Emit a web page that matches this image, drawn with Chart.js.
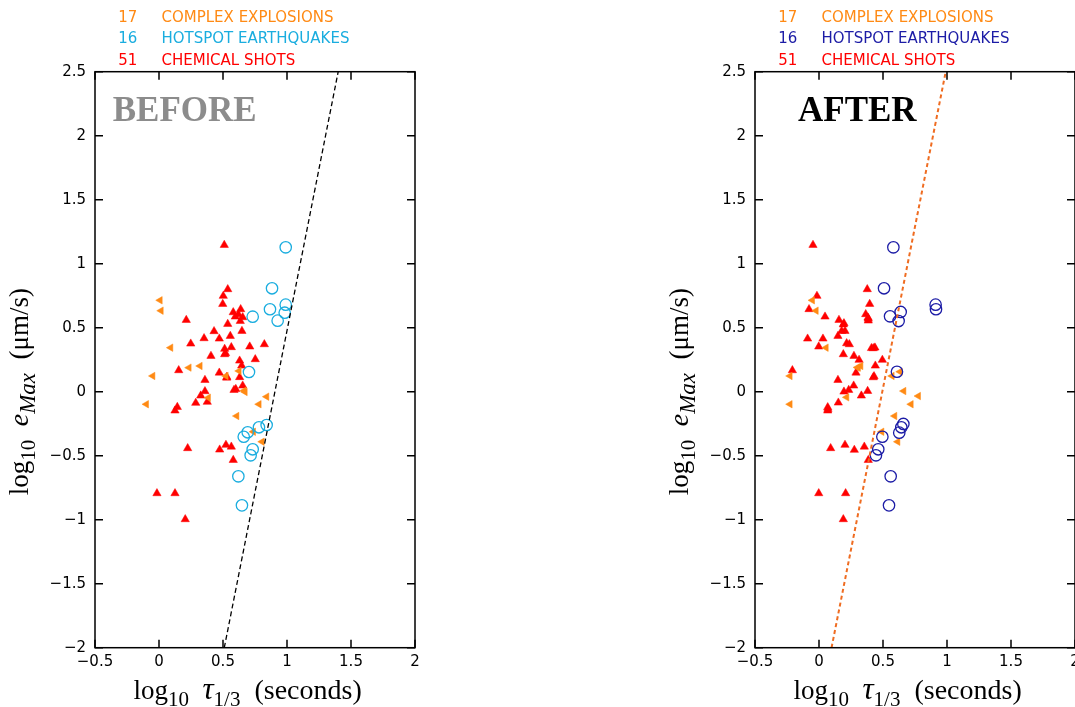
<!DOCTYPE html>
<html>
<head>
<meta charset="utf-8">
<script src="https://cdn.jsdelivr.net/npm/chart.js@4.4.1/dist/chart.umd.min.js"></script>
<style>
  html, body { margin:0; padding:0; background:#fff; overflow:hidden; width:1075px; height:707px; }
  canvas { position:absolute; top:0; }
  #c1 { left:0; }
  #c2 { left:540px; }
</style>
</head>
<body>
<canvas id="c1" width="540" height="707"></canvas>
<canvas id="c2" width="600" height="707"></canvas>
<script>
// ---------- DATA ----------
const xTicks = [-0.5, 0, 0.5, 1, 1.5, 2];
const yTicks = [-2, -1.5, -1, -0.5, 0, 0.5, 1, 1.5, 2, 2.5];

const legendCounts = ['17', '16', '51'];
const legendNames = ['COMPLEX EXPLOSIONS', 'HOTSPOT EARTHQUAKES', 'CHEMICAL SHOTS'];

// BEFORE panel
const beforeChemX = [0.51,0.537,0.502,0.498,0.638,0.596,0.654,0.62,0.213,0.537,0.635,0.43,0.648,0.352,0.471,0.557,0.248,0.513,0.565,0.709,0.823,0.406,0.513,0.63,0.752,0.646,0.154,0.471,0.529,0.63,0.359,0.654,0.586,0.359,0.326,0.377,0.287,0.143,0.125,0.224,0.474,0.523,0.565,0.58,-0.016,0.125,0.205,0.58,0.52,0.60,0.53];
const beforeChemY = [1.146,0.80,0.748,0.685,0.644,0.586,0.581,0.605,0.56,0.529,0.552,0.472,0.474,0.417,0.414,0.435,0.375,0.334,0.347,0.352,0.37,0.279,0.292,0.242,0.253,0.203,0.167,0.148,0.109,0.113,0.091,0.047,0.013,0.003,-0.031,-0.08,-0.088,-0.12,-0.148,-0.442,-0.453,-0.416,-0.43,-0.534,-0.794,-0.794,-0.997,0.62,0.30,0.02,0.115];
const beforeCplxX = [0.008,0.016,0.091,0.234,0.32,-0.049,0.625,0.523,0.664,0.385,0.841,-0.099,0.781,0.607,0.737,0.805,0.672];
const beforeCplxY = [0.714,0.633,0.344,0.188,0.201,0.123,0.162,0.123,0.008,-0.047,-0.039,-0.098,-0.098,-0.19,-0.313,-0.391,-0.002];
const beforeQuakeX = [0.99,0.883,0.99,0.867,0.982,0.927,0.732,0.703,0.841,0.781,0.693,0.662,0.732,0.716,0.62,0.648];
const beforeQuakeY = [1.128,0.808,0.68,0.644,0.617,0.555,0.586,0.154,-0.26,-0.278,-0.317,-0.352,-0.45,-0.497,-0.661,-0.888];
const beforeLineX = [0.51, 1.40];
const beforeLineY = [-2, 2.5];

// AFTER panel
const afterChemX = [-0.047,-0.016,-0.078,0.047,0.377,0.396,0.365,0.383,0.385,0.156,0.195,0.177,0.203,0.148,-0.089,0.031,-0.002,0.216,0.237,0.424,0.437,0.19,0.273,0.313,0.495,0.44,0.289,-0.208,0.424,0.148,0.271,0.195,0.232,0.38,0.331,0.151,0.068,0.068,0.091,0.203,0.276,0.354,0.385,-0.002,0.208,0.19,0.43,0.385,0.41,0.19,0.07];
const afterChemY = [1.146,0.748,0.644,0.586,0.80,0.685,0.605,0.578,0.555,0.56,0.534,0.474,0.474,0.435,0.414,0.414,0.352,0.378,0.37,0.339,0.344,0.292,0.279,0.248,0.248,0.203,0.148,0.167,0.112,0.091,0.047,0.0,0.013,0.005,-0.031,-0.086,-0.122,-0.148,-0.442,-0.416,-0.455,-0.43,-0.534,-0.794,-0.794,-0.997,0.12,0.57,0.34,0.525,-0.135];
const afterCplxX = [-0.052,-0.023,0.055,-0.227,0.307,0.326,0.633,0.57,0.662,0.216,0.776,-0.227,0.719,0.591,0.49,0.615,0.30];
const afterCplxY = [0.714,0.633,0.344,0.123,0.188,0.201,0.156,0.123,0.005,-0.044,-0.034,-0.098,-0.098,-0.19,-0.313,-0.391,0.19];
const afterQuakeX = [0.581,0.508,0.911,0.914,0.638,0.555,0.622,0.609,0.659,0.643,0.627,0.495,0.463,0.445,0.56,0.547];
const afterQuakeY = [1.128,0.808,0.68,0.644,0.623,0.589,0.552,0.156,-0.252,-0.278,-0.32,-0.352,-0.45,-0.497,-0.661,-0.888];
const afterLineX = [0.098, 0.99];
const afterLineY = [-2, 2.5];

// ---------- HELPERS ----------
const pts = (xs, ys) => xs.map((x, i) => ({x, y: ys[i]}));
const fmt = v => (v < 0 ? '\u2212' : '') + String(Math.abs(Math.round(v * 100) / 100));
const SERIF = '"Liberation Serif", "Times New Roman", serif';

function drawRich(ctx, pieces) {
  let x = 0;
  pieces.forEach(p => {
    ctx.font = p.f;
    ctx.fillText(p.t, x, p.dy || 0);
    x += ctx.measureText(p.t).width;
  });
  return x;
}
function richWidth(ctx, pieces) {
  let w = 0;
  pieces.forEach(p => { ctx.font = p.f; w += ctx.measureText(p.t).width; });
  return w;
}

const mainF = '27px ' + SERIF;
const subF = '21px ' + SERIF;
const yTitle = [
  {t:'log', f:mainF}, {t:'10', f:subF, dy:7}, {t:'  ', f:mainF},
  {t:'e', f:'italic 28px ' + SERIF}, {t:'Max', f:'italic 23px ' + SERIF, dy:7},
  {t:'  (\u03bcm/s)', f:mainF}
];
const xTitle = [
  {t:'log', f:mainF}, {t:'10', f:subF, dy:7}, {t:'  ', f:mainF},
  {t:'\u03c4', f:'italic 31px ' + SERIF}, {t:'1/3', f:subF, dy:7},
  {t:'  (seconds)', f:'28px ' + SERIF}
];

const framePlugin = {
  id: 'frame',
  afterDraw(chart, args, o) {
    const {ctx, chartArea: a, scales: {x, y}} = chart;
    ctx.save();
    // box and inward ticks
    ctx.strokeStyle = '#000';
    ctx.lineWidth = 1.5;
    ctx.strokeRect(a.left, a.top, a.right - a.left, a.bottom - a.top);
    ctx.beginPath();
    x.ticks.forEach(t => {
      const p = x.getPixelForValue(t.value);
      ctx.moveTo(p, a.bottom); ctx.lineTo(p, a.bottom - 8);
      ctx.moveTo(p, a.top); ctx.lineTo(p, a.top + 8);
    });
    y.ticks.forEach(t => {
      const p = y.getPixelForValue(t.value);
      ctx.moveTo(a.left, p); ctx.lineTo(a.left + 8, p);
      ctx.moveTo(a.right, p); ctx.lineTo(a.right - 8, p);
    });
    ctx.stroke();

    // legend
    ctx.textBaseline = 'alphabetic';
    ctx.textAlign = 'left';
    ctx.font = '15px "DejaVu Sans", sans-serif';
    o.legendColors.forEach((c, i) => {
      ctx.fillStyle = c;
      const by = 21.7 + i * 21.6;
      ctx.fillText(legendCounts[i], a.left + 23.3, by);
      ctx.fillText(legendNames[i], a.left + 66.5, by);
    });

    // panel title
    ctx.font = 'bold 35px ' + SERIF;
    ctx.fillStyle = o.titleColor;
    ctx.fillText(o.title, a.left + o.titleDx, 121);

    // axis titles
    ctx.fillStyle = '#000';
    ctx.save();
    ctx.translate(a.left + 38.5, 699);
    drawRich(ctx, xTitle);
    ctx.restore();

    ctx.save();
    const w = richWidth(ctx, yTitle);
    ctx.translate(a.left - 67, 288 + w);
    ctx.rotate(-Math.PI / 2);
    drawRich(ctx, yTitle);
    ctx.restore();

    ctx.restore();
  }
};

function makeChart(id, padL, padR, d) {
  return new Chart(document.getElementById(id), {
    type: 'scatter',
    data: {
      datasets: [
        { data: pts(d.lx, d.ly), showLine: true, pointRadius: 0, borderColor: d.lineColor,
          borderWidth: d.lineWidth, borderDash: d.dash, fill: false, order: 0 },
        { data: pts(d.qx, d.qy), pointStyle: 'circle', pointRadius: 5.7, backgroundColor: 'rgba(0,0,0,0)',
          borderColor: d.quakeColor, pointBorderWidth: 1.3, order: 1 },
        { data: pts(d.ox, d.oy), pointStyle: 'triangle', pointRotation: -90, pointRadius: 4.3,
          backgroundColor: '#ff8a14', borderColor: '#ff8a14', pointBorderWidth: 0.5, order: 2 },
        { data: pts(d.cx, d.cy), pointStyle: 'triangle', pointRadius: 4.8,
          backgroundColor: '#ff0000', borderColor: '#ff0000', pointBorderWidth: 0.5, order: 3 }
      ]
    },
    options: {
      responsive: false,
      animation: false,
      devicePixelRatio: 1,
      layout: { padding: { left: padL, right: padR, top: 71.7, bottom: 19.3 } },
      plugins: {
        legend: { display: false },
        tooltip: { enabled: false },
        frame: d.frame
      },
      scales: {
        x: {
          type: 'linear', min: -0.5, max: 2,
          afterFit: s => { s.height = 40; },
          afterBuildTicks: s => { s.ticks = xTicks.map(v => ({value: v})); },
          grid: { display: false, drawTicks: false },
          border: { display: false },
          ticks: { padding: 5, color: '#000', font: { family: '"DejaVu Sans"', size: 15 }, callback: fmt, maxRotation: 0, autoSkip: false }
        },
        y: {
          type: 'linear', min: -2, max: 2.5,
          afterFit: s => { s.width = 60; },
          afterBuildTicks: s => { s.ticks = yTicks.map(v => ({value: v})); },
          grid: { display: false, drawTicks: false },
          border: { display: false },
          ticks: { padding: 9, color: '#000', font: { family: '"DejaVu Sans"', size: 15 }, callback: fmt, autoSkip: false }
        }
      }
    },
    plugins: [framePlugin]
  });
}

makeChart('c1', 35, 125, {
  cx: beforeChemX, cy: beforeChemY, ox: beforeCplxX, oy: beforeCplxY,
  qx: beforeQuakeX, qy: beforeQuakeY, lx: beforeLineX, ly: beforeLineY,
  quakeColor: '#1aaddf', lineColor: '#000000', lineWidth: 1.3, dash: [5, 3],
  frame: { legendColors: ['#ff8a14', '#1aaddf', '#ff0000'], title: 'BEFORE', titleColor: '#8c8c8c', titleDx: 17.7 }
});
makeChart('c2', 155, 65, {
  cx: afterChemX, cy: afterChemY, ox: afterCplxX, oy: afterCplxY,
  qx: afterQuakeX, qy: afterQuakeY, lx: afterLineX, ly: afterLineY,
  quakeColor: '#1c1ca6', lineColor: '#ef6c21', lineWidth: 2, dash: [4, 3],
  frame: { legendColors: ['#ff8a14', '#1c1ca6', '#ff0000'], title: 'AFTER', titleColor: '#000000', titleDx: 43 }
});
</script>
</body>
</html>
